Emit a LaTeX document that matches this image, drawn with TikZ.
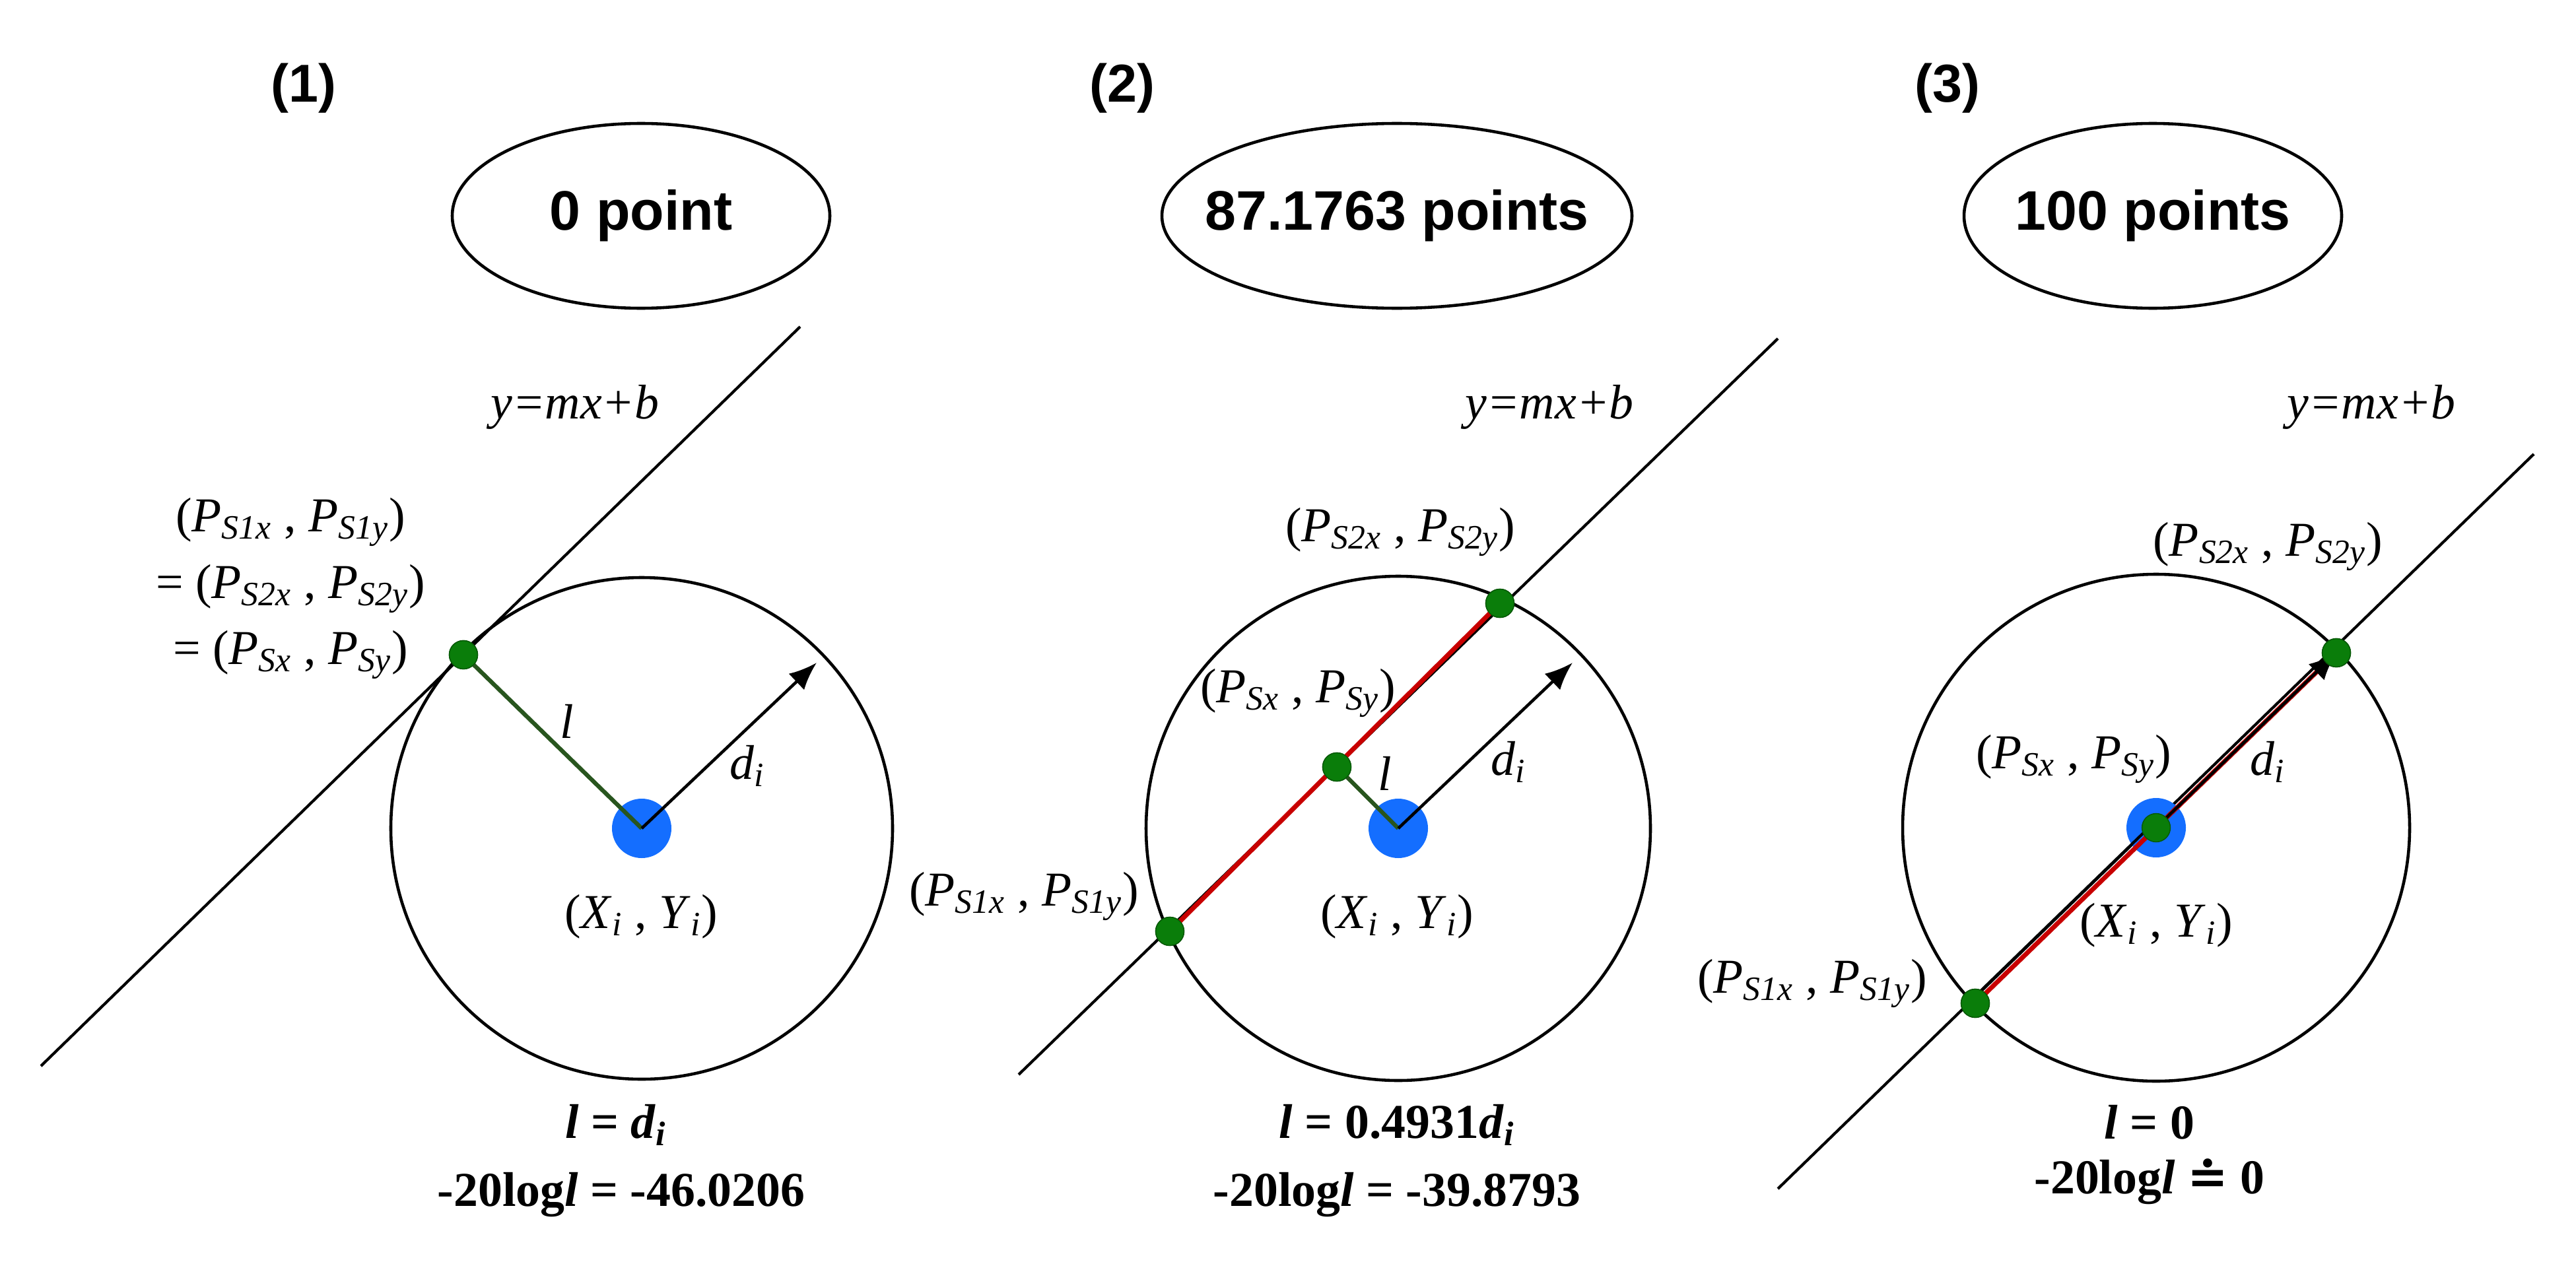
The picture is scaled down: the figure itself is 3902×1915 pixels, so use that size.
\documentclass[tikz,border=0pt]{standalone}
\usepackage{fontspec}
\setmainfont{Liberation Serif}
\newfontfamily\sansb{Liberation Sans}
\newfontfamily\djs{DejaVu Serif}
\usetikzlibrary{arrows.meta,shapes.geometric}
\definecolor{dotblue}{RGB}{20,110,255}
\definecolor{dotgreen}{RGB}{10,125,10}
\definecolor{lgreen}{RGB}{40,85,30}
\definecolor{chord}{RGB}{200,0,0}
\newcommand\Ps[1]{\textit{P}\textsubscript{\textit{#1}}}
\newcommand\XYi{(\textit{X}\textsubscript{\textit{i}} , \textit{Y}\textsubscript{\textit{i}})}
\newcommand\dsub{\textit{d}\textsubscript{\textit{i}}}
\begin{document}
\begin{tikzpicture}[x=0.1mm,y=-0.1mm,
  txt/.style={font=\fontsize{21}{26}\selectfont,inner sep=0pt,align=center},
  btxt/.style={font=\fontsize{21}{26}\selectfont\bfseries,inner sep=0pt,align=center},
  head/.style={font=\fontsize{23}{26}\selectfont\sansb\bfseries,inner sep=0pt},
  score/.style={ellipse,draw,line width=1.3pt,font=\fontsize{24}{28}\selectfont\sansb\bfseries,inner ysep=0pt,inner xsep=-10mm},
  ring/.style={line width=1.3pt},
  mline/.style={line width=1.2pt},
  bdot/.style={circle,fill=dotblue,inner sep=0pt,minimum size=9mm},
  gdot/.style={circle,fill=dotgreen,draw=dotgreen!70!black,inner sep=0pt,minimum size=4.3mm},
  lseg/.style={line width=1.8pt,color=lgreen},
  rseg/.style={line width=2pt,color=chord},
  rad/.style={line width=1.3pt,-{Latex[length=4.2mm,width=3.4mm]}}]
\useasboundingbox (0,0) rectangle (3902,1915);
% ---------- panel 1
\node[head] (h1) at (460,134) {(1)};
\node[score,minimum width=57.2mm,minimum height=28mm] (s1) at (971,327) {0 point};
\coordinate (a1) at (62,1615);
\coordinate (b1) at (1212,495);
\draw[mline] (a1) -- (b1);
\coordinate (c1) at (972,1255);
\draw[ring] (c1) circle (380);
\coordinate (e1) at (1237,1004);
\node[bdot] (x1) at (c1) {};
\node[gdot] (g1) at (702,992) {};
\draw[lseg] (g1.center) -- (x1.center);
\draw[rad] (x1.center) -- (e1);
\node[gdot] at (702,992) {};
\node[txt] (l1) at (859,1093) {\textit{l}};
\node[txt] (d1) at (1132,1160) {\dsub};
\node[txt] (xy1) at (971,1389) {\XYi};
\node[txt] (y1) at (871,617) {\textit{y=mx+b}};
\node[txt] (p1a) at (440,791) {(\Ps{S1x} , \Ps{S1y})};
\node[txt] (p1b) at (440,892) {= (\Ps{S2x} , \Ps{S2y})};
\node[txt] (p1c) at (440,992) {= (\Ps{Sx} , \Ps{Sy})};
\node[btxt] (f1a) at (933,1704) {\textit{l} = \textit{d}\textsubscript{\textit{i}}};
\node[btxt] (f1b) at (941,1810) {-20log\textit{l} = -46.0206};
% ---------- panel 2
\node[head] (h2) at (1700,134) {(2)};
\node[score,minimum width=71.2mm,minimum height=28mm] (s2) at (2116,327) {87.1763 points};
\coordinate (a2) at (1543,1628);
\coordinate (b2) at (2693,513);
\draw[mline] (a2) -- (b2);
\coordinate (c2) at (2118,1255);
\draw[ring] (c2) circle (382);
\coordinate (e2) at (2382,1004);
\node[bdot] (x2) at (c2) {};
\node[gdot] (q2a) at (1772,1411) {};
\node[gdot] (q2b) at (2272,914) {};
\node[gdot] (q2s) at (2025,1162) {};
\draw[rseg] (q2a.center) -- (q2b.center);
\draw[lseg] (q2s.center) -- (x2.center);
\draw[rad] (x2.center) -- (e2);
\node[gdot] at (1772,1411) {};
\node[gdot] at (2272,914) {};
\node[gdot] at (2025,1162) {};
\node[txt] (p2b) at (2121,806) {(\Ps{S2x} , \Ps{S2y})};
\node[txt] (p2s) at (1966,1050) {(\Ps{Sx} , \Ps{Sy})};
\node[txt] (l2) at (2098,1172) {\textit{l}};
\node[txt] (d2) at (2285,1154) {\dsub};
\node[txt] (xy2) at (2116,1389) {\XYi};
\node[txt] (p2a) at (1551,1358) {(\Ps{S1x} , \Ps{S1y})};
\node[txt] (y2) at (2347,617) {\textit{y=mx+b}};
\node[btxt] (f2a) at (2116,1704) {\textit{l} = 0.4931\textit{d}\textsubscript{\textit{i}}};
\node[btxt] (f2b) at (2116,1810) {-20log\textit{l} = -39.8793};
% ---------- panel 3
\node[head] (h3) at (2950,134) {(3)};
\node[score,minimum width=57.2mm,minimum height=28mm] (s3) at (3261,327) {100 points};
\coordinate (a3) at (2693,1801);
\coordinate (b3) at (3838,688);
\draw[mline] (a3) -- (b3);
\coordinate (c3) at (3266,1254);
\draw[ring] (c3) circle (384);
\node[bdot] (x3) at (c3) {};
\node[gdot] (q3a) at (2992,1520) {};
\node[gdot] (q3b) at (3539,989) {};
\draw[mline] ([xshift=-0.5mm,yshift=0.6mm]q3a.center) -- ([xshift=-0.5mm,yshift=0.6mm]x3.center);
\draw[rseg] (q3a.center) -- (q3b.center);
\draw[rad] (x3.center) -- (q3b.center);
\node[gdot] (q3s) at (c3) {};
\node[gdot] at (2992,1520) {};
\node[gdot] at (3539,989) {};
\node[txt] (p3b) at (3435,828) {(\Ps{S2x} , \Ps{S2y})};
\node[txt] (p3s) at (3141,1150) {(\Ps{Sx} , \Ps{Sy})};
\node[txt] (d3) at (3435,1154) {\dsub};
\node[txt] (xy3) at (3266,1402) {\XYi};
\node[txt] (p3a) at (2745,1490) {(\Ps{S1x} , \Ps{S1y})};
\node[txt] (y3) at (3592,617) {\textit{y=mx+b}};
\node[btxt] (f3a) at (3256,1700) {\textit{l} = 0};
\node[btxt] (f3b) at (3256,1790) {-20log\textit{l} {\djs\bfseries ≐} 0};
\end{tikzpicture}
\end{document}
